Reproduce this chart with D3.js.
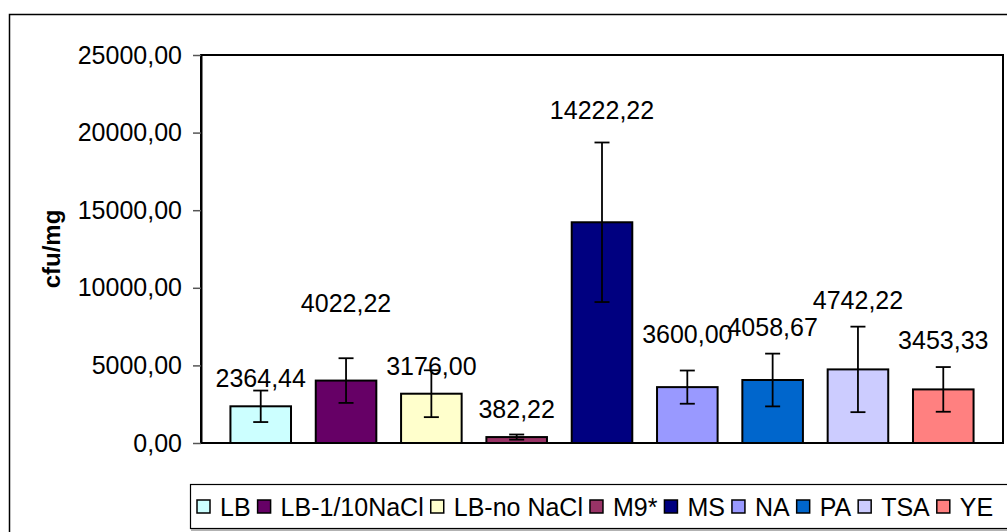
<!DOCTYPE html>
<html>
<head>
<meta charset="utf-8">
<script src="https://cdn.jsdelivr.net/npm/d3@7"></script>
<style>
  html, body { margin: 0; padding: 0; background: #fff; overflow: hidden; }
  svg { display: block; font-family: Arial, "Liberation Sans", sans-serif; }
</style>
</head>
<body>
<svg id="chart" width="1007" height="532"></svg>
<script>
// ---- data ----
const categories = ["LB", "LB-1/10NaCl", "LB-no NaCl", "M9*", "MS", "NA", "PA", "TSA", "YE"];
const values = [2364.44, 4022.22, 3176.00, 382.22, 14222.22, 3600.00, 4058.67, 4742.22, 3453.33];
const errors = [1015, 1440, 1510, 165, 5140, 1070, 1700, 2755, 1440];
const valueLabels = ["2364,44", "4022,22", "3176,00", "382,22", "14222,22", "3600,00", "4058,67", "4742,22", "3453,33"];
const labelAt = [4200, 9035, 4930, 2160, 21425, 7035, 7460, 9180, 6605];
const colors = ["#CCFFFF", "#660066", "#FFFFCC", "#993366", "#000080", "#9999FF", "#0066CC", "#CCCCFF", "#FF8080"];
const yTicks = [0, 5000, 10000, 15000, 20000, 25000];
const yTickLabels = ["0,00", "5000,00", "10000,00", "15000,00", "20000,00", "25000,00"];
const yTitle = "cfu/mg";

// ---- layout ----
const svg = d3.select("#chart");
const plot = { left: 201, top: 55, right: 1003, bottom: 443 };
const fontSize = 25;

// outer chart border
svg.append("rect")
  .attr("x", 9.5).attr("y", 14.5)
  .attr("width", 1100).attr("height", 600)
  .attr("fill", "#fff").attr("stroke", "#000").attr("stroke-width", 1.5);

const x = d3.scaleBand()
  .domain(categories)
  .range([plot.left, plot.right])
  .paddingInner(0.29)
  .paddingOuter(0.345);

const y = d3.scaleLinear()
  .domain([0, 25000])
  .range([plot.bottom, plot.top]);

// plot area
svg.append("rect")
  .attr("x", plot.left).attr("y", plot.top)
  .attr("width", plot.right - plot.left).attr("height", plot.bottom - plot.top)
  .attr("fill", "#fff").attr("stroke", "#000").attr("stroke-width", 2);

// y axis
const yAxis = d3.axisLeft(y)
  .tickValues(yTicks)
  .tickFormat((d, i) => yTickLabels[i])
  .tickSizeInner(8)
  .tickSizeOuter(0)
  .tickPadding(11);

const gy = svg.append("g")
  .attr("transform", `translate(${plot.left},0)`)
  .call(yAxis);
gy.select(".domain").attr("stroke", "#000").attr("stroke-width", 2);
gy.selectAll(".tick line").attr("stroke", "#555").attr("stroke-width", 1.5);
gy.selectAll(".tick text")
  .attr("fill", "#000")
  .style("font-family", "Arial, 'Liberation Sans', sans-serif")
  .style("font-size", fontSize + "px");

// y title
svg.append("text")
  .attr("transform", `translate(52,${(plot.top + plot.bottom) / 2}) rotate(-90)`)
  .attr("text-anchor", "middle")
  .attr("dy", "0.35em")
  .style("font-size", "24px")
  .style("font-weight", "bold")
  .text(yTitle);

// bars
const data = categories.map((c, i) => ({ c, v: values[i], e: errors[i], lab: valueLabels[i], la: labelAt[i], col: colors[i] }));

svg.append("g").selectAll("rect")
  .data(data)
  .join("rect")
  .attr("x", d => x(d.c))
  .attr("y", d => y(d.v))
  .attr("width", x.bandwidth())
  .attr("height", d => y(0) - y(d.v))
  .attr("fill", d => d.col)
  .attr("stroke", "#000")
  .attr("stroke-width", 2);

// redraw bottom axis line on top
svg.append("line")
  .attr("x1", plot.left).attr("x2", plot.right)
  .attr("y1", plot.bottom).attr("y2", plot.bottom)
  .attr("stroke", "#000").attr("stroke-width", 2);

// error bars
const eb = svg.append("g").attr("stroke", "#000").attr("stroke-width", 1.8);
const cap = 7.5;
data.forEach(d => {
  const cx = x(d.c) + x.bandwidth() / 2;
  eb.append("line").attr("x1", cx).attr("x2", cx).attr("y1", y(d.v + d.e)).attr("y2", y(Math.max(0, d.v - d.e)));
  eb.append("line").attr("x1", cx - cap).attr("x2", cx + cap).attr("y1", y(d.v + d.e)).attr("y2", y(d.v + d.e));
  eb.append("line").attr("x1", cx - cap).attr("x2", cx + cap).attr("y1", y(Math.max(0, d.v - d.e))).attr("y2", y(Math.max(0, d.v - d.e)));
});

// value labels
svg.append("g").selectAll("text")
  .data(data)
  .join("text")
  .attr("x", d => x(d.c) + x.bandwidth() / 2)
  .attr("y", d => y(d.la))
  .attr("dy", "0.35em")
  .attr("text-anchor", "middle")
  .style("font-size", fontSize + "px")
  .text(d => d.lab);

// legend
const legend = svg.append("g");
legend.append("rect")
  .attr("x", 190.5).attr("y", 484.5)
  .attr("width", 900).attr("height", 44)
  .attr("fill", "#fff").attr("stroke", "#000").attr("stroke-width", 1.2);
legend.append("line")
  .attr("x1", 191).attr("x2", 1100).attr("y1", 530).attr("y2", 530)
  .attr("stroke", "#999").attr("stroke-width", 1.5);

let lx = 197;
const ly = 507;
data.forEach(d => {
  legend.append("rect")
    .attr("x", lx).attr("y", ly - 7)
    .attr("width", 13).attr("height", 13)
    .attr("fill", d.col).attr("stroke", "#000").attr("stroke-width", 1.5);
  const t = legend.append("text")
    .attr("x", lx + 23).attr("y", ly)
    .attr("dy", "0.35em")
    .style("font-size", fontSize + "px")
    .text(d.c);
  lx = lx + 23 + t.node().getComputedTextLength() + 7;
});
</script>
</body>
</html>
